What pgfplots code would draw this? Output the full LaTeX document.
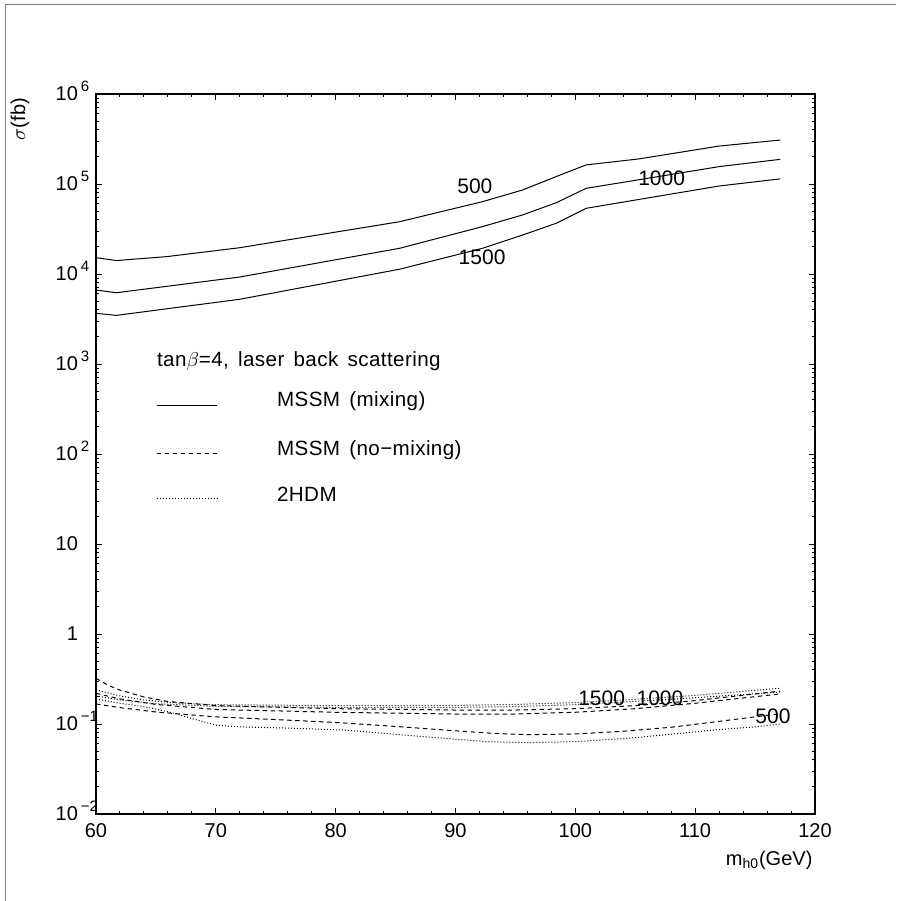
\documentclass[border=0pt]{standalone}
\usepackage{pgfplots}
\pgfplotsset{compat=1.18}
\usepackage{pgfplotstable}
\usepackage{fontspec}
\setmainfont{Liberation Sans}
\newfontfamily\legfont[LetterSpace=2, WordSpace=1.5]{Liberation Sans}
\newcommand{\sups}[1]{10\rlap{\smash{\hspace{1.5pt}\raisebox{4.5pt}{\fontsize{7.5}{7.5}\selectfont #1}}}}
\pgfplotstableread{
x y
60 15200
61.7 14100
65.9 15600
72 19600
85.33 38100
92.25 63600
95.6 85800
98.4 121000
100.9 163000
105.3 190000
112 264000
117.1 308000
}\mixA
\pgfplotstableread{
x y
60 6640
61.7 6190
72 9260
85.33 19300
92.25 33600
95.6 45300
98.4 61900
100.9 89500
112 156000
117.1 188000
}\mixB
\pgfplotstableread{
x y
60 3660
61.7 3470
72 5240
85.33 11300
92.25 19300
95.6 27100
98.4 36600
100.9 53700
112 95000
117.1 114000
}\mixC
\pgfplotstableread{
x y
60 0.322
61 0.27
62 0.238
64 0.2
66 0.178
70 0.16
80 0.148
90 0.143
95 0.143
100 0.148
105 0.16
110 0.182
117.1 0.232
}\nomixA
\pgfplotstableread{
x y
60 0.219
62 0.19
65 0.165
70 0.145
80 0.135
90 0.129
95 0.129
100 0.135
105 0.148
110 0.17
117.1 0.216
}\nomixB
\pgfplotstableread{
x y
60 0.167
62 0.152
65 0.136
68 0.126
70 0.12
75 0.112
80 0.104
85 0.094
90 0.084
93 0.079
96 0.076
100 0.0775
104 0.083
108 0.092
112 0.107
115 0.12
117.1 0.13
}\nomixC
\pgfplotstableread{
x y
60 0.24
62 0.205
64 0.185
67 0.17
70 0.164
80 0.160
90 0.161
95 0.165
100 0.173
105 0.188
110 0.208
117.1 0.25
}\hdmA
\pgfplotstableread{
x y
60 0.205
62 0.185
65 0.168
70 0.157
80 0.153
90 0.153
95 0.156
100 0.164
105 0.178
110 0.196
117.1 0.226
}\hdmB
\pgfplotstableread{
x y
60 0.19
62 0.17
64 0.156
66 0.137
68 0.115
70 0.097
72 0.093
76 0.09
80.6 0.0858
86 0.075
92.5 0.0637
96 0.062
100 0.0637
104.4 0.0693
108 0.077
111.6 0.0858
115 0.093
117.1 0.1
}\hdmC
\begin{document}
\fontsize{10}{12}\selectfont
\begin{tikzpicture}
\begin{axis}[
  width=359.5pt, height=360pt, scale only axis,
  xmin=60, xmax=120, ymin=1e-2, ymax=1e6, ymode=log,
  xtick={60,70,...,120}, minor x tick num=4,
  ytick={1e-2,1e-1,1,10,100,1e3,1e4,1e5,1e6},
  yticklabels={\sups{−2},\sups{−1},1,10,\sups{2},\sups{3},\sups{4},\sups{5},\sups{6}},
  tick align=inside, major tick length=3pt, minor tick length=1.5pt,
  axis line style={line width=0.9pt},
  every tick/.style={black, line width=0.5pt},
  tick label style={font=\fontsize{10}{12}\selectfont},
  /pgf/number format/assume math mode=true,
  yticklabel style={xshift=-5.5pt},
  xticklabel style={yshift=-1pt},
  clip=false,
]
\addplot[black, line width=0.5pt, no markers] table {\mixA};
\addplot[black, line width=0.5pt, no markers] table {\mixB};
\addplot[black, line width=0.5pt, no markers] table {\mixC};
\addplot[black, line width=0.5pt, no markers, dash pattern=on 2.2pt off 1.8pt] table {\nomixA};
\addplot[black, line width=0.5pt, no markers, dash pattern=on 2.2pt off 1.8pt] table {\nomixB};
\addplot[black, line width=0.5pt, no markers, dash pattern=on 2.2pt off 1.8pt] table {\nomixC};
\addplot[black, line width=0.5pt, no markers, dash pattern=on 0.5pt off 1pt] table {\hdmA};
\addplot[black, line width=0.5pt, no markers, dash pattern=on 0.5pt off 1pt] table {\hdmB};
\addplot[black, line width=0.5pt, no markers, dash pattern=on 0.5pt off 1pt] table {\hdmC};
% curve labels
\node[font=\fontsize{10.5}{12}\selectfont] at (rel axis cs:0.527,0.872) {500};
\node[font=\fontsize{10.5}{12}\selectfont] at (rel axis cs:0.7867,0.883) {1000};
\node[font=\fontsize{10.5}{12}\selectfont] at (rel axis cs:0.537,0.773) {1500};
\node[font=\fontsize{10.5}{12}\selectfont] at (rel axis cs:0.7033,0.1607) {1500};
\node[font=\fontsize{10.5}{12}\selectfont] at (rel axis cs:0.7844,0.1607) {1000};
\node[font=\fontsize{10.5}{12}\selectfont] at (rel axis cs:0.9416,0.1351) {500};
% legend
\node[anchor=base west, inner sep=0pt, font=\legfont\fontsize{10.3}{12}\selectfont] at (rel axis cs:0.0844,0.6213) {tan$\beta$=4, laser back scattering};
\draw[line width=0.5pt] (rel axis cs:0.0844,0.568) -- (rel axis cs:0.1679,0.568);
\draw[line width=0.5pt, dash pattern=on 2.2pt off 1.8pt] (rel axis cs:0.0844,0.501) -- (rel axis cs:0.1679,0.501);
\draw[line width=0.5pt, dash pattern=on 0.5pt off 1pt] (rel axis cs:0.0844,0.4385) -- (rel axis cs:0.1679,0.4385);
\node[anchor=base west, inner sep=0pt, font=\legfont\fontsize{10.3}{12}\selectfont] at (rel axis cs:0.2513,0.5657) {MSSM (mixing)};
\node[anchor=base west, inner sep=0pt, font=\legfont\fontsize{10.3}{12}\selectfont] at (rel axis cs:0.2513,0.4986) {MSSM (no−mixing)};
\node[anchor=base west, inner sep=0pt, font=\legfont\fontsize{10.3}{12}\selectfont] at (rel axis cs:0.2513,0.4338) {2HDM};
% axis labels
\node[rotate=90, anchor=center] at (rel axis cs:-0.1057,0.965) {$\sigma$(fb)};
\node[anchor=east, inner sep=0pt] at (rel axis cs:0.997,-0.064) {m\textsubscript{h0}(GeV)};
\end{axis}
\draw[gray, line width=0.6pt] (-45.25pt,-43.5pt) -- (-45.25pt,404.75pt) -- (400pt,404.75pt);
\pgfresetboundingbox
\path[use as bounding box] (-48pt,-43.5pt) rectangle (400pt,407pt);
\end{tikzpicture}
\end{document}
